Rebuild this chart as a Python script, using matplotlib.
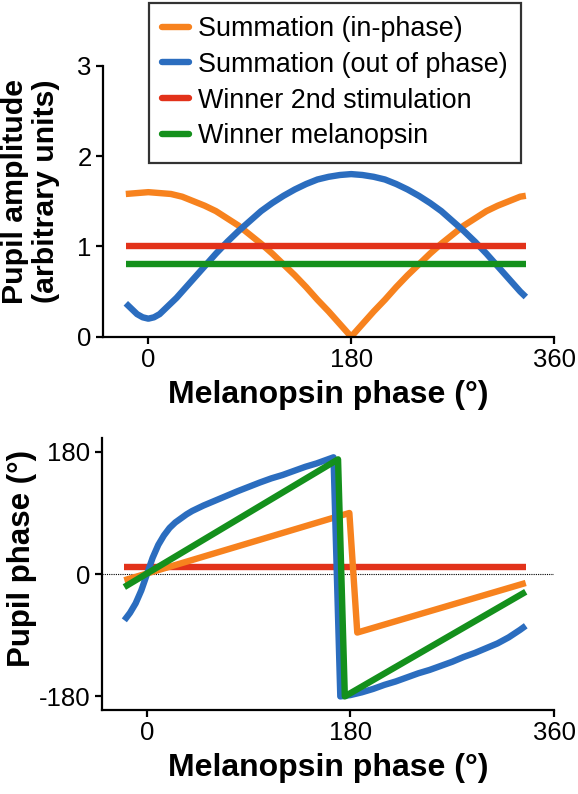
import numpy as np
import matplotlib
matplotlib.use('Agg')
import matplotlib.pyplot as plt

plt.rcParams['font.family'] = ['Liberation Sans', 'DejaVu Sans']
plt.rcParams['axes.unicode_minus'] = False

# melanopsin phase (deg) for the amplitude panel
amp_x = [-20, -10, 0, 10, 20, 30, 40, 50, 60, 70, 80, 90, 100, 110, 120, 130, 140, 150, 160, 170,
         180, 190, 200, 210, 220, 230, 240, 250, 260, 270, 280, 290, 300, 310, 320, 330, 335]
amp_inphase = [1.58, 1.59, 1.60, 1.59, 1.58, 1.55, 1.50, 1.45, 1.39, 1.31, 1.23, 1.13, 1.03, 0.92,
               0.80, 0.68, 0.55, 0.41, 0.28, 0.14, 0.00, 0.14, 0.28, 0.41, 0.55, 0.68, 0.80, 0.92,
               1.03, 1.13, 1.23, 1.31, 1.39, 1.45, 1.50, 1.55, 1.56]
amp_out_x = [-20, -15, -10, -5, 0, 5, 10, 15, 20, 25, 30, 40, 50, 60, 70, 80, 90, 100, 110, 120, 130,
             140, 150, 160, 170, 180, 190, 200, 210, 220, 230, 240, 250, 260, 270, 280, 290, 300,
             310, 320, 330, 335]
amp_outphase = [0.37, 0.31, 0.25, 0.215, 0.20, 0.215, 0.25, 0.31, 0.37, 0.43, 0.50, 0.64, 0.78, 0.92,
                1.05, 1.17, 1.28, 1.39, 1.48, 1.56, 1.63, 1.69, 1.74, 1.77, 1.79, 1.80, 1.79, 1.77,
                1.74, 1.69, 1.63, 1.56, 1.48, 1.39, 1.28, 1.17, 1.05, 0.92, 0.78, 0.64, 0.50, 0.44]
amp_win2_x = [-20, 335]
amp_win2 = [1.0, 1.0]
amp_winmel_x = [-20, 335]
amp_winmel = [0.8, 0.8]

# pupil phase panel
ph_in_x = [-20, 179, 186, 335]
ph_in = [-9, 90, -86, -13]
ph_out_x = [-20, -15, -10, -5, 0, 5, 10, 15, 20, 25, 30, 35, 40, 50, 60, 70, 80, 90, 100, 110, 120,
            130, 140, 150, 160, 165, 171, 180, 190, 200, 210, 220, 230, 240, 250, 260, 270, 280,
            290, 300, 310, 320, 330, 335]
ph_out = [-68, -57, -43, -24, 0, 24, 43, 57, 68, 76, 82, 88, 93, 101, 108, 115, 122, 128.5, 135, 141,
          146, 152, 158, 163, 169, 172, -180, -178, -174, -169, -163, -158, -152, -146, -141, -135,
          -129, -122, -116, -109, -102, -93, -82, -76]
ph_win2_x = [-20, 335]
ph_win2 = [10, 10]
ph_winmel_x = [-20, 169, 175, 335]
ph_winmel = [-19, 169, -180, -26]

labels = ['Summation (in-phase)', 'Summation (out of phase)', 'Winner 2nd stimulation', 'Winner melanopsin']
colors = ['#f7821e', '#2b6dbf', '#e2321a', '#14901c']
xticks = [0, 180, 360]

fig = plt.figure(figsize=(5.78, 7.94), dpi=100)
ax1 = fig.add_axes([0.1777, 0.5759, 0.7808, 0.3414])
ax2 = fig.add_axes([0.1760, 0.1058, 0.7825, 0.3422])

lw = 4.6
ax1.plot(amp_x, amp_inphase, color=colors[0], lw=lw, solid_capstyle='butt', label=labels[0])
ax1.plot(amp_out_x, amp_outphase, color=colors[1], lw=lw, solid_capstyle='butt', label=labels[1])
ax1.plot(amp_win2_x, amp_win2, color=colors[2], lw=lw, solid_capstyle='butt', label=labels[2])
ax1.plot(amp_winmel_x, amp_winmel, color=colors[3], lw=lw, solid_capstyle='butt', label=labels[3])

ax2.axhline(0, color='black', lw=0.8, ls=(0, (1, 1)))
ax2.plot(ph_in_x, ph_in, color=colors[0], lw=lw, solid_capstyle='butt')
ax2.plot(ph_out_x, ph_out, color=colors[1], lw=lw, solid_capstyle='butt')
ax2.plot(ph_win2_x, ph_win2, color=colors[2], lw=lw, solid_capstyle='butt', zorder=1.5)
ax2.plot(ph_winmel_x, ph_winmel, color=colors[3], lw=lw, solid_capstyle='butt')

ax1.set_xlim(-40.5, 360)
ax1.set_ylim(0, 3)
ax1.set_yticks([0, 1, 2, 3])
ax2.set_xlim(-40, 360)
ax2.set_ylim(-200, 200)
ax2.set_yticks([-180, 0, 180])

for ax in (ax1, ax2):
    ax.set_xticks(xticks)
    for s in ('top', 'right'):
        ax.spines[s].set_visible(False)
    for s in ('left', 'bottom'):
        ax.spines[s].set_linewidth(1.6)
    ax.tick_params(width=1.6, length=5, labelsize=18.5, pad=3)
    ax.set_xlabel('Melanopsin phase (°)', fontsize=23, fontweight='bold', labelpad=6)

ax1.set_ylabel('Pupil amplitude\n(arbitrary units)', fontsize=21.8, fontweight='bold',
               linespacing=1.12, multialignment='right')
ax1.yaxis.set_label_coords(-0.095, 0.534)
ax2.set_ylabel('Pupil phase (°)', fontsize=22.5, fontweight='bold')
ax2.yaxis.set_label_coords(-0.143, 0.558)

leg = ax1.legend(loc='upper left', bbox_to_anchor=(148.5 / 578, 1 - 2.7 / 794),
                 bbox_transform=fig.transFigure, fontsize=19.4, frameon=True, fancybox=False,
                 handlelength=1.0, handletextpad=0.32, labelspacing=0.36, borderpad=0.5,
                 borderaxespad=0)
leg.get_frame().set_edgecolor('black')
leg.get_frame().set_linewidth(1.6)
for h in leg.get_lines():
    h.set_linewidth(4.6)
    h.set_solid_capstyle('round')

fig.savefig('out.png', dpi=100)
